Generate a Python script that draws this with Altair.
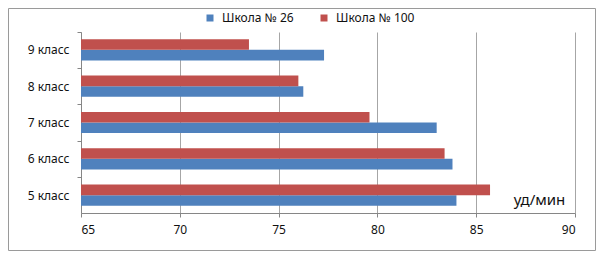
import altair as alt
import pandas as pd

classes = ["9 класс", "8 класс", "7 класс", "6 класс", "5 класс"]
schools = ["Школа № 26", "Школа № 100"]
school26 = [77.3, 76.25, 83.0, 83.8, 84.0]
school100 = [73.5, 76.0, 79.6, 83.4, 85.7]
x_ticks = [65, 70, 75, 80, 85, 90]

rows = []
for c, a, b in zip(classes, school26, school100):
    rows.append({"cls": c, "school": schools[0], "v": a})
    rows.append({"cls": c, "school": schools[1], "v": b})
df = pd.DataFrame(rows)

FONT = "Noto Sans"
W, H = 494, 181

bars = alt.Chart(df).mark_bar(clip=True).encode(
    y=alt.Y("cls:N", sort=classes, title=None,
            scale=alt.Scale(paddingInner=0.418, paddingOuter=0.2),
            axis=alt.Axis(labelFont=FONT, labelFontSize=12, labelColor="#111111",
                          domainColor="#868686", tickColor="#868686", tickSize=4,
                          labelPadding=8, tickOffset=-18.2, labelOffset=18.2,
                          grid=False)),
    yOffset=alt.YOffset("school:N", sort=[schools[1], schools[0]]),
    x=alt.X("v:Q", title="уд/мин",
            scale=alt.Scale(domain=[65, 90], zero=False, nice=False),
            axis=alt.Axis(values=x_ticks, labelFont=FONT, labelFontSize=12,
                          labelColor="#111111", domainColor="#868686",
                          tickColor="#868686", tickSize=4, labelPadding=7,
                          gridColor="#a6a6a6", titleFont=FONT, titleFontSize=15,
                          titleFontWeight="normal", titleColor="#111111",
                          titleX=458, titleY=-14, titleBaseline="middle",
                          titleAnchor="middle")),
    x2=alt.datum(65),
    color=alt.Color("school:N", sort=schools,
                    scale=alt.Scale(domain=schools, range=["#4F81BD", "#C0504D"]),
                    legend=alt.Legend(title=None, orient="none", legendX=123, legendY=-20,
                                      direction="horizontal", columns=2,
                                      symbolType="square", symbolSize=49,
                                      labelFont=FONT, labelFontSize=12,
                                      labelColor="#111111", columnPadding=24,
                                      labelOffset=6)),
)

frame = alt.Chart(pd.DataFrame({"k": [0]})).mark_rect(
    fill=None, stroke="#9a9a9a", strokeWidth=1
).encode(
    x=alt.value(-72.5), x2=alt.value(514.5),
    y=alt.value(-23.5), y2=alt.value(218.5),
)

chart = alt.layer(frame, bars).properties(
    width=W, height=H,
    autosize=alt.AutoSizeParams(type="none"),
    padding={"left": 73, "top": 24, "right": 21, "bottom": 38},
).configure_view(stroke=None).configure_axisY(grid=False)

chart.save("out.html", embed_options={"renderer": "svg", "actions": False})
